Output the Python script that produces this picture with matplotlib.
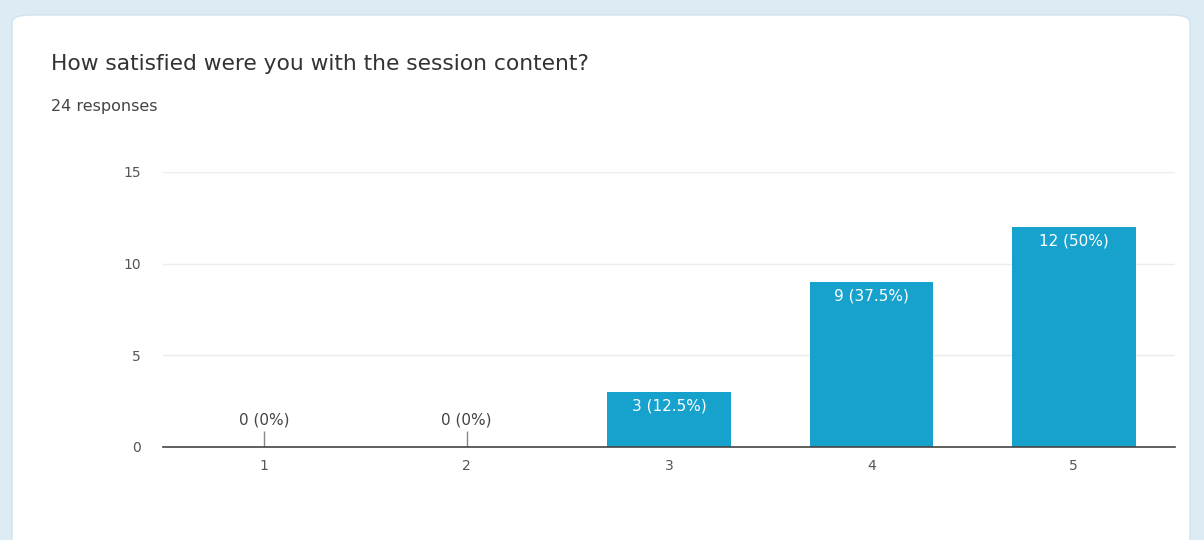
import matplotlib
matplotlib.use('Agg')
import matplotlib.pyplot as plt
from matplotlib.patches import FancyBboxPatch

# survey data
categories = ['1', '2', '3', '4', '5']
counts = [0, 0, 3, 9, 12]
total = 24
title = 'How satisfied were you with the session content?'
subtitle = '24 responses'
yticks = [0, 5, 10, 15]

bar_color = '#17a2ce'
W, H = 1204, 540
FONT = ['DejaVu Sans']

fig = plt.figure(figsize=(W / 100, H / 100), dpi=100)
fig.patch.set_facecolor('#dcebf4')

# white card behind everything
card = FancyBboxPatch((12 / W, -0.1), (1190 - 12) / W, (540 - 15) / H + 0.1,
                      boxstyle='round,pad=0,rounding_size=0.015',
                      transform=fig.transFigure, facecolor='white',
                      edgecolor='#cfe3ee', linewidth=1.0, zorder=-5)
fig.patches.append(card)

fig.text(51 / W, 1 - 64 / H, title, fontsize=15.7, color='#333333',
         family=FONT, va='center', ha='left')
fig.text(51 / W, 1 - 106 / H, subtitle, fontsize=11.5, color='#444444',
         family=FONT, va='center', ha='left')

ax = fig.add_axes([163 / W, 93 / H, (1175 - 163) / W, (447 - 172) / H])
ax.set_facecolor('none')

x = list(range(1, len(categories) + 1))
ax.bar(x, counts, width=0.61, color=bar_color, zorder=3)

ax.set_xlim(0.5, 5.5)
ax.set_ylim(0, 15)
ax.set_yticks(yticks)
ax.set_xticks(x)
ax.set_xticklabels(categories)
ax.grid(axis='y', color='#ececec', linewidth=1, zorder=0)
for s in ['top', 'right', 'left']:
    ax.spines[s].set_visible(False)
ax.spines['bottom'].set_color('#444444')
ax.spines['bottom'].set_linewidth(1.2)
ax.spines['bottom'].set_zorder(4)
ax.tick_params(axis='both', length=0, labelsize=10, colors='#555555', pad=9)
ax.tick_params(axis='y', pad=16)
for lbl in ax.get_xticklabels() + ax.get_yticklabels():
    lbl.set_family(FONT)

for xi, c in zip(x, counts):
    pct = c / total * 100
    pct_s = ('%.1f' % pct).rstrip('0').rstrip('.')
    txt = '%d (%s%%)' % (c, pct_s)
    if c == 0:
        ax.vlines(xi, 0, 0.9, color='#888888', linewidth=1, zorder=4)
        ax.annotate(txt, (xi, 0), xytext=(0, 14), textcoords='offset points',
                    ha='center', va='bottom', fontsize=11, color='#444444',
                    family=FONT)
    else:
        ax.annotate(txt, (xi, c), xytext=(0, -5), textcoords='offset points',
                    ha='center', va='top', fontsize=11, color='white',
                    family=FONT, zorder=5)

fig.savefig('out.png', dpi=100, facecolor=fig.get_facecolor())
